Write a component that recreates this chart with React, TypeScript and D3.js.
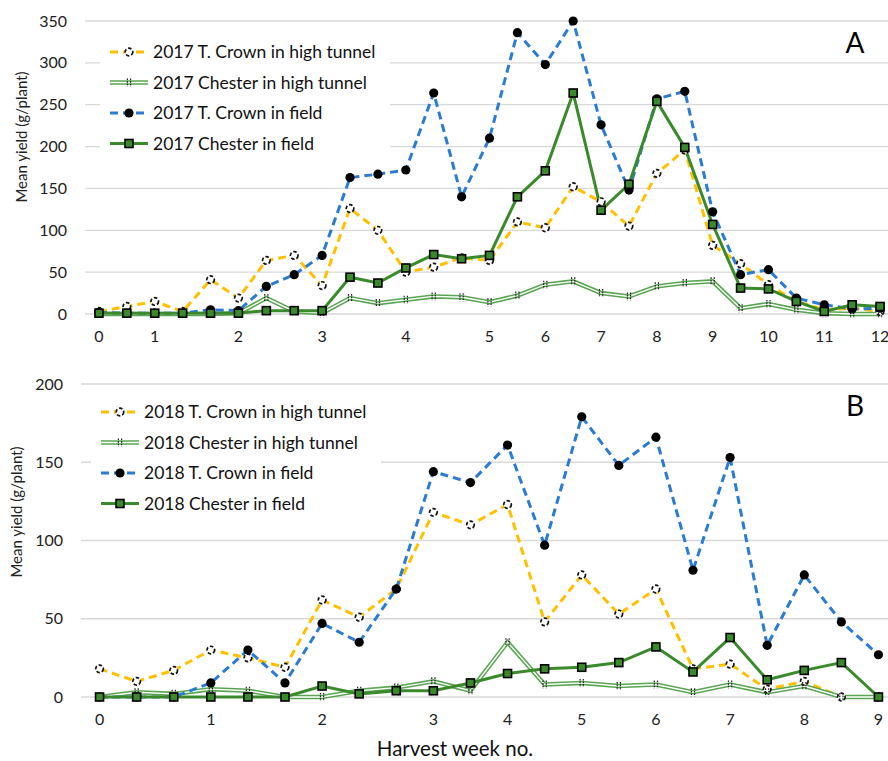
import React from "react";
import * as d3 from "d3";

// panel A (2017)
const weeksA = ["0", "", "1", "", "", "2", "", "", "3", "", "", "4", "", "", "5", "", "6", "", "7", "", "8", "", "9", "", "10", "", "11", "", "12"];
const crownTunnelA = [3, 9, 15, 3, 41, 19, 64, 70, 34, 126, 100, 50, 56, 67, 64, 110, 103, 152, 134, 105, 168, 196, 82, 60, 35, 15, 5, 7, 3];
const chesterTunnelA = [0, 0, 0, 0, 0, 1, 19, 3, 1, 19, 13, 17, 21, 20, 14, 22, 35, 39, 25, 21, 33, 37, 39, 7, 12, 5, 1, 0, 0];
const crownFieldA = [2, 1, 1, 1, 5, 4, 33, 47, 70, 163, 167, 172, 264, 140, 210, 336, 298, 350, 226, 148, 257, 266, 122, 47, 53, 19, 11, 6, 7];
const chesterFieldA = [1, 1, 1, 1, 1, 1, 4, 4, 4, 44, 37, 55, 71, 66, 70, 140, 171, 264, 124, 155, 254, 199, 107, 31, 30, 15, 3, 11, 9];
const legendA = ["2017 T. Crown in high tunnel", "2017 Chester in high tunnel", "2017 T. Crown in field", "2017 Chester in field"];

// panel B (2018)
const weeksB = ["0", "", "", "1", "", "", "2", "", "", "3", "", "4", "", "5", "", "6", "", "7", "", "8", "", "9"];
const crownTunnelB = [18, 10, 17, 30, 25, 19, 62, 51, 69, 118, 110, 123, 48, 78, 53, 69, 18, 21, 5, 10, 0, 0];
const chesterTunnelB = [0, 3, 2, 5, 4, 0, 0, 4, 6, 10, 4, 35, 8, 9, 7, 8, 3, 8, 3, 7, 0, 0];
const crownFieldB = [0, 0, 0, 9, 30, 9, 47, 35, 69, 144, 137, 161, 97, 179, 148, 166, 81, 153, 33, 78, 48, 27];
const chesterFieldB = [0, 0, 0, 0, 0, 0, 7, 2, 4, 4, 9, 15, 18, 19, 22, 32, 16, 38, 11, 17, 22, 0];
const legendB = ["2018 T. Crown in high tunnel", "2018 Chester in high tunnel", "2018 T. Crown in field", "2018 Chester in field"];

const FONT = "Lato, 'Open Sans', sans-serif";
const YELLOW = "#ffc000";
const BLUE = "#2a7bd1";
const GREEN = "#3a8a2c";
const HTGREEN = "#5aa552";

function Marker({ kind, x, y }: { kind: number; x: number; y: number }) {
  if (kind === 0)
    return <circle cx={x} cy={y} r={3.8} fill="#fff" stroke="#111" strokeWidth={1.7} strokeDasharray="3.5 2" />;
  if (kind === 1)
    return (
      <g stroke="#222" strokeWidth={1.2} strokeDasharray="1.6 1">
        <line x1={x - 1.6} x2={x - 1.6} y1={y - 4} y2={y + 4} />
        <line x1={x + 1.6} x2={x + 1.6} y1={y - 4} y2={y + 4} />
      </g>
    );
  if (kind === 2) return <circle cx={x} cy={y} r={4.6} fill="#000" />;
  return <rect x={x - 4} y={y - 4} width={8} height={8} fill={GREEN} stroke="#000" strokeWidth={1.6} />;
}

function SeriesLine({ kind, pts }: { kind: number; pts: [number, number][] }) {
  const d = d3.line()(pts) || "";
  if (kind === 0) return <path d={d} fill="none" stroke={YELLOW} strokeWidth={3} strokeDasharray="8 5" />;
  if (kind === 1)
    return (
      <g>
        <path d={d} fill="none" stroke={HTGREEN} strokeWidth={4.5} />
        <path d={d} fill="none" stroke="#fff" strokeWidth={1.4} />
      </g>
    );
  if (kind === 2) return <path d={d} fill="none" stroke={BLUE} strokeWidth={3} strokeDasharray="8 5" />;
  return <path d={d} fill="none" stroke={GREEN} strokeWidth={3} />;
}

function Panel(props: {
  weeks: string[];
  series: number[][];
  legend: string[];
  yMax: number;
  yStep: number;
  top: number;
  bottom: number;
  left: number;
  right: number;
  letter: string;
  legendY: number;
  legendX: number;
  titleY: number;
  titleX: number;
}) {
  const { weeks, series, legend, yMax, yStep, top, bottom, left, right, letter, legendY, legendX } = props;
  const x = d3.scalePoint<number>().domain(d3.range(weeks.length)).range([left, right]).padding(0.5);
  const y = d3.scaleLinear().domain([0, yMax]).range([bottom, top]);
  const ticks = d3.range(0, yMax + 1, yStep);
  const legW = 290;
  return (
    <g fontFamily={FONT}>
      {ticks.map((t) => (
        <g key={t}>
          <line x1={left} x2={right} y1={y(t)} y2={y(t)} stroke="#d9d9d9" strokeWidth={1.3} />
          <text x={left - 18} y={y(t)} dy="0.35em" textAnchor="end" fontSize={16} fill="#222">
            {t}
          </text>
        </g>
      ))}
      {weeks.map((w, i) =>
        w ? (
          <text key={i} x={x(i)} y={bottom + 28} textAnchor="middle" fontSize={16} fill="#222">
            {w}
          </text>
        ) : null
      )}
      <text
        transform={`translate(${props.titleX},${props.titleY}) rotate(-90)`}
        textAnchor="middle"
        fontSize={15}
        fill="#222"
      >
        Mean yield (g/plant)
      </text>
      <rect x={legendX - 10} y={legendY - 18} width={legW} height={126} fill="#fff" />
      {series.map((s, k) => (
        <SeriesLine key={k} kind={k} pts={s.map((v, i) => [x(i) as number, y(v)])} />
      ))}
      {series.map((s, k) => (
        <g key={k}>
          {s.map((v, i) => (
            <Marker key={i} kind={k} x={x(i) as number} y={y(v)} />
          ))}
        </g>
      ))}
      {legend.map((l, k) => {
        const ly = legendY + k * 30.5;
        return (
          <g key={l}>
            <SeriesLine kind={k} pts={[[legendX, ly], [legendX + 38, ly]]} />
            <Marker kind={k} x={legendX + 19} y={ly} />
            <text x={legendX + 43} y={ly} dy="0.36em" fontSize={17.5} fill="#111">
              {l}
            </text>
          </g>
        );
      })}
      <text x={855} y={top + 32} textAnchor="middle" fontSize={28} fill="#000">
        {letter}
      </text>
    </g>
  );
}

export default function App() {
  return (
    <div style={{ position: "absolute", left: 0, top: 0 }}>
      <svg width={888} height={761} style={{ display: "block", background: "#fff" }}>
        <Panel
          weeks={weeksA}
          series={[crownTunnelA, chesterTunnelA, crownFieldA, chesterFieldA]}
          legend={legendA}
          yMax={350}
          yStep={50}
          top={21}
          bottom={314}
          left={85}
          right={894}
          letter="A"
          legendY={52}
          legendX={110}
          titleX={27}
          titleY={137}
        />
        <Panel
          weeks={weeksB}
          series={[crownTunnelB, chesterTunnelB, crownFieldB, chesterFieldB]}
          legend={legendB}
          yMax={200}
          yStep={50}
          top={384}
          bottom={697}
          left={81}
          right={897}
          letter="B"
          legendY={412}
          legendX={101}
          titleX={22}
          titleY={512}
        />
        <text x={455} y={756} textAnchor="middle" fontSize={20.5} fontFamily={FONT} fill="#111">
          Harvest week no.
        </text>
      </svg>
    </div>
  );
}
